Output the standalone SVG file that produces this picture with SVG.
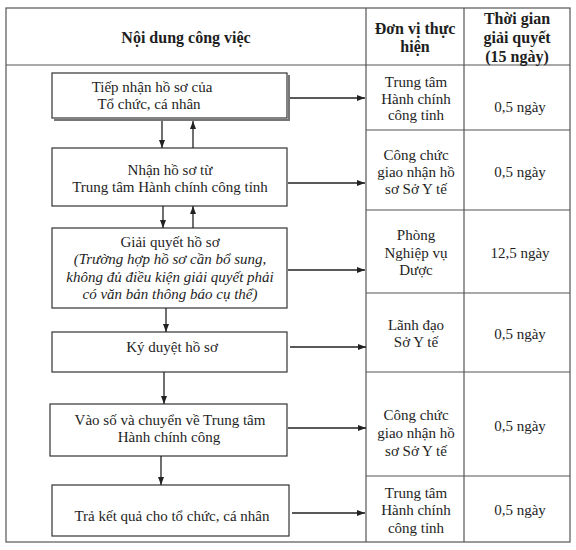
<svg xmlns="http://www.w3.org/2000/svg" width="576" height="550" viewBox="0 0 576 550">
<defs>
<marker id="ah" markerWidth="8" markerHeight="6" refX="8" refY="3" orient="auto" markerUnits="userSpaceOnUse">
<path d="M0,0 L8,3 L0,6 Z" fill="#222"/>
</marker>
<style>
text{font-family:"Liberation Serif","Times New Roman",serif;fill:#1e1e1e;font-size:15px;text-anchor:middle}
.h{font-weight:bold;font-size:16px}
.it{font-style:italic}
.grid{stroke:#555;stroke-width:1.2;fill:none}
.box{fill:#fff;stroke:#333;stroke-width:1.2}
.shadow{fill:none;stroke:#777;stroke-width:2}
.con line{stroke:#222;stroke-width:1.3;marker-end:url(#ah)}
</style>
</defs>
<rect width="576" height="550" fill="#fff"/>
<g id="table">
<rect class="grid" x="6" y="8" width="564" height="534"/>
<line class="grid" x1="6" y1="65" x2="570" y2="65"/>
<line class="grid" x1="366" y1="8" x2="366" y2="542"/>
<line class="grid" x1="464" y1="8" x2="464" y2="542"/>
<line class="grid" x1="366" y1="130" x2="570" y2="130"/>
<line class="grid" x1="366" y1="210" x2="570" y2="210"/>
<line class="grid" x1="366" y1="293" x2="570" y2="293"/>
<line class="grid" x1="366" y1="372" x2="570" y2="372"/>
<line class="grid" x1="366" y1="476" x2="570" y2="476"/>
<text class="h" x="186" y="43">Nội dung công việc</text>
<text class="h" x="415" y="34">Đơn vị thực</text>
<text class="h" x="415" y="52">hiện</text>
<text class="h" x="517" y="24">Thời gian</text>
<text class="h" x="517" y="43">giải quyết</text>
<text class="h" x="517" y="62">(15 ngày)</text>
<text x="416" y="87">Trung tâm</text>
<text x="416" y="104">Hành chính</text>
<text x="416" y="120">công tỉnh</text>
<text x="520" y="112">0,5 ngày</text>
<text x="416" y="160">Công chức</text>
<text x="416" y="177">giao nhận hồ</text>
<text x="416" y="194">sơ Sở Y tế</text>
<text x="520" y="177">0,5 ngày</text>
<text x="416" y="240">Phòng</text>
<text x="416" y="258">Nghiệp vụ</text>
<text x="416" y="275">Dược</text>
<text x="520" y="258">12,5 ngày</text>
<text x="416" y="330">Lãnh đạo</text>
<text x="416" y="347">Sở Y tế</text>
<text x="520" y="339">0,5 ngày</text>
<text x="416" y="420">Công chức</text>
<text x="416" y="438">giao nhận hồ</text>
<text x="416" y="456">sơ Sở Y tế</text>
<text x="520" y="431">0,5 ngày</text>
<text x="416" y="498">Trung tâm</text>
<text x="416" y="515">Hành chính</text>
<text x="416" y="533">công tỉnh</text>
<text x="520" y="515">0,5 ngày</text>
</g>
<g id="n1">
<polyline class="shadow" points="54,120 289,120 289,75"/>
<rect class="box" x="52" y="73" width="235" height="45"/>
<text x="152" y="92">Tiếp nhận hồ sơ của</text>
<text x="149" y="109">Tổ chức, cá nhân</text>
</g>
<g id="n2">
<rect class="box" x="52" y="148" width="235" height="58"/>
<text x="170" y="175">Nhận hồ sơ từ</text>
<text x="170" y="192">Trung tâm Hành chính công tỉnh</text>
</g>
<g id="n3">
<rect class="box" x="52" y="228" width="235" height="80"/>
<text x="170" y="247">Giải quyết hồ sơ</text>
<text class="it" x="170" y="264">(Trường hợp hồ sơ cần bổ sung,</text>
<text class="it" x="170" y="282">không đủ điều kiện giải quyết phải</text>
<text class="it" x="170" y="299">có văn bản thông báo cụ thể)</text>
</g>
<g id="n4">
<rect class="box" x="52" y="332" width="235" height="40"/>
<text x="172" y="352">Ký duyệt hồ sơ</text>
</g>
<g id="n5">
<rect class="box" x="50" y="404" width="237" height="52"/>
<text x="170" y="425">Vào số và chuyển về Trung tâm</text>
<text x="169" y="442">Hành chính công</text>
</g>
<g id="n6">
<rect class="box" x="52" y="485" width="237" height="51"/>
<text x="172" y="521">Trả kết quả cho tổ chức, cá nhân</text>
</g>
<g id="connectors" class="con">
<line x1="162" y1="121" x2="162" y2="148"/>
<line x1="193" y1="148" x2="193" y2="121"/>
<line x1="163" y1="206" x2="163" y2="228"/>
<line x1="193" y1="228" x2="193" y2="206"/>
<line x1="166" y1="308" x2="166" y2="332"/>
<line x1="164" y1="372" x2="164" y2="404"/>
<line x1="161" y1="456" x2="161" y2="485"/>
<line x1="290" y1="98" x2="365" y2="98"/>
<line x1="288" y1="183" x2="365" y2="183"/>
<line x1="288" y1="270" x2="365" y2="270"/>
<line x1="290" y1="347" x2="366" y2="347"/>
<line x1="288" y1="428" x2="366" y2="428"/>
<line x1="292" y1="513" x2="365" y2="513"/>
</g>
</svg>
